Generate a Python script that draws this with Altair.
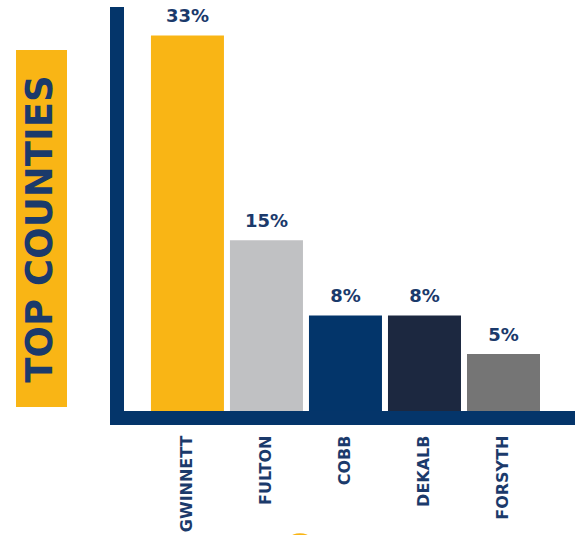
import altair as alt
import pandas as pd

counties = ["GWINNETT", "FULTON", "COBB", "DEKALB", "FORSYTH"]
values = [33, 15, 8.4, 8.4, 5]
labels = ["33%", "15%", "8%", "8%", "5%"]
colors = ["#F9B515", "#C0C1C3", "#03356A", "#1C2840", "#757575"]

NAVY = "#04356A"
TEXT_NAVY = "#1B3A6B"
GOLD = "#F9B515"
FONT = "DejaVu Sans"

W, H = 451, 404

df = pd.DataFrame({"county": counties, "value": values, "label": labels})
one = pd.DataFrame({"k": [0]})

xenc = alt.X(
    "county:N",
    sort=counties,
    scale=alt.Scale(paddingInner=0.076, paddingOuter=0.392, align=0.435),
    axis=alt.Axis(
        title=None, labelAngle=270, labelAlign="right", labelBaseline="middle",
        labelPadding=24, ticks=False, domain=False, labelFont=FONT,
        labelFontWeight="bold", labelFontSize=16, labelColor=TEXT_NAVY,
    ),
)
yenc = alt.Y("value:Q", scale=alt.Scale(domain=[0, 35.5]), axis=None)

base = alt.Chart(df).encode(x=xenc, y=yenc)

bars = base.mark_bar().encode(
    color=alt.Color("county:N", scale=alt.Scale(domain=counties, range=colors), legend=None)
)
texts = base.mark_text(
    dy=-9, baseline="bottom", align="center", fontSize=18, fontWeight="bold",
    font=FONT, color=TEXT_NAVY,
).encode(text="label:N")

vrule = alt.Chart(one).mark_rule(strokeWidth=14, color=NAVY, strokeCap="butt").encode(
    x=alt.value(-7), y=alt.value(0), y2=alt.value(H + 14)
)
hrule = alt.Chart(one).mark_rule(strokeWidth=14, color=NAVY, strokeCap="butt").encode(
    y=alt.value(H + 7), x=alt.value(-14), x2=alt.value(W)
)

title_rect = alt.Chart(one).mark_rect(color=GOLD).encode(
    x=alt.value(-108), x2=alt.value(-57), y=alt.value(43), y2=alt.value(400)
)
title_text = alt.Chart(one).mark_text(
    text="TOP COUNTIES", angle=270, align="center", baseline="middle",
    fontSize=37, fontWeight="bold", font=FONT, color=TEXT_NAVY,
).encode(x=alt.value(-83), y=alt.value(222))

blob = alt.Chart(one).mark_circle(color=GOLD, size=1257, opacity=1).encode(
    x=alt.value(176), y=alt.value(544)
)

chart = alt.layer(
    title_rect, title_text, bars, texts, vrule, hrule, blob
).properties(
    width=W, height=H,
    autosize=alt.AutoSizeParams(type="none"),
    padding={"left": 124, "top": 7, "right": 0, "bottom": 124},
).configure_view(stroke=None)

chart.save("out.html", embed_options={"renderer": "svg", "actions": False})
